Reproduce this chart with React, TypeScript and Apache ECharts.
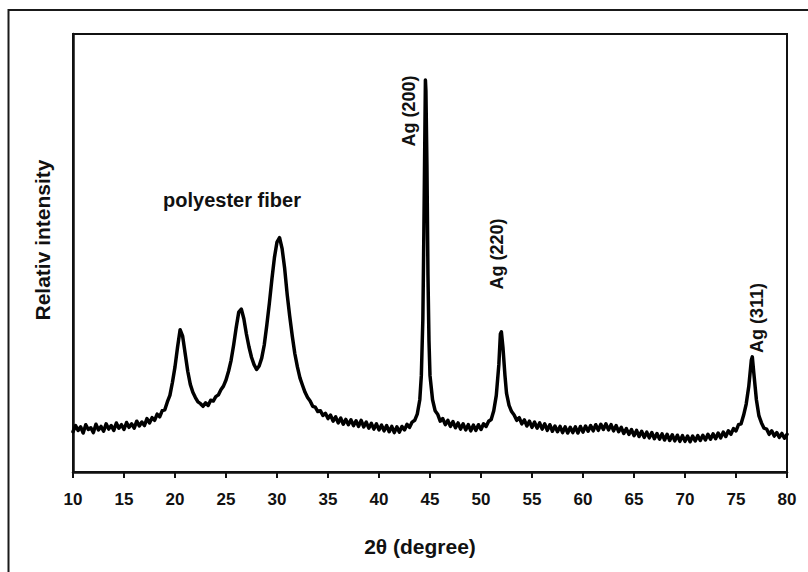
import React, { useEffect, useRef } from "react";
import * as echarts from "echarts";

const twoTheta: number[] = [
  10.0, 10.25, 10.5, 10.75, 11.0, 11.25, 11.5, 11.75, 12.0, 12.25, 12.5, 12.75, 13.0, 13.25, 13.5, 13.75,
  14.0, 14.25, 14.5, 14.75, 15.0, 15.25, 15.5, 15.75, 16.0, 16.25, 16.5, 16.75, 17.0, 17.25, 17.5, 17.75,
  18.0, 18.25, 18.5, 18.75, 19.0, 19.25, 19.5, 19.75, 20.0, 20.25, 20.5, 20.75, 21.0, 21.25, 21.5, 21.75,
  22.0, 22.25, 22.5, 22.75, 23.0, 23.25, 23.5, 23.75, 24.0, 24.25, 24.5, 24.75, 25.0, 25.25, 25.5, 25.75,
  26.0, 26.25, 26.5, 26.75, 27.0, 27.25, 27.5, 27.75, 28.0, 28.25, 28.5, 28.75, 29.0, 29.25, 29.5, 29.75,
  30.0, 30.25, 30.5, 30.75, 31.0, 31.25, 31.5, 31.75, 32.0, 32.25, 32.5, 32.75, 33.0, 33.25, 33.5, 33.75,
  34.0, 34.25, 34.5, 34.75, 35.0, 35.25, 35.5, 35.75, 36.0, 36.25, 36.5, 36.75, 37.0, 37.25, 37.5, 37.75,
  38.0, 38.25, 38.5, 38.75, 39.0, 39.25, 39.5, 39.75, 40.0, 40.25, 40.5, 40.75, 41.0, 41.25, 41.5, 41.75,
  42.0, 42.25, 42.5, 42.75, 43.0, 43.25, 43.5, 43.75, 44.0, 44.15, 44.3, 44.4, 44.5, 44.55, 44.6, 44.7,
  44.8, 44.9, 45.0, 45.25, 45.5, 45.75, 46.0, 46.25, 46.5, 46.75, 47.0, 47.25, 47.5, 47.75, 48.0, 48.25,
  48.5, 48.75, 49.0, 49.25, 49.5, 49.75, 50.0, 50.25, 50.5, 50.75, 51.0, 51.25, 51.5, 51.75, 51.9, 52.0,
  52.15, 52.35, 52.5, 52.75, 53.0, 53.25, 53.5, 53.75, 54.0, 54.25, 54.5, 54.75, 55.0, 55.25, 55.5, 55.75,
  56.0, 56.25, 56.5, 56.75, 57.0, 57.25, 57.5, 57.75, 58.0, 58.25, 58.5, 58.75, 59.0, 59.25, 59.5, 59.75,
  60.0, 60.25, 60.5, 60.75, 61.0, 61.25, 61.5, 61.75, 62.0, 62.25, 62.5, 62.75, 63.0, 63.25, 63.5, 63.75,
  64.0, 64.25, 64.5, 64.75, 65.0, 65.25, 65.5, 65.75, 66.0, 66.25, 66.5, 66.75, 67.0, 67.25, 67.5, 67.75,
  68.0, 68.25, 68.5, 68.75, 69.0, 69.25, 69.5, 69.75, 70.0, 70.25, 70.5, 70.75, 71.0, 71.25, 71.5, 71.75,
  72.0, 72.25, 72.5, 72.75, 73.0, 73.25, 73.5, 73.75, 74.0, 74.25, 74.5, 74.75, 75.0, 75.25, 75.5, 75.75,
  76.0, 76.25, 76.5, 76.6, 76.75, 77.0, 77.25, 77.5, 77.75, 78.0, 78.25, 78.5, 78.75, 79.0, 79.25, 79.5,
  79.75, 80.0,
];

const intensity: number[] = [
  9.2, 10.6, 9.5, 10.3, 8.9, 10.8, 9.7, 10.1, 9.0, 10.9, 9.6, 10.4, 9.3, 11.0, 9.8, 10.6,
  9.5, 11.2, 10.0, 10.8, 9.7, 11.3, 10.2, 11.0, 10.0, 11.6, 10.5, 11.4, 10.6, 12.2, 11.2, 12.4,
  11.8, 13.2, 12.6, 14.0, 14.2, 16.0, 17.5, 20.5, 24.0, 28.5, 32.5, 31.0, 27.0, 23.0, 20.0, 18.2,
  17.0, 16.0, 15.6, 15.0, 15.8, 15.2, 16.4, 16.2, 17.2, 17.6, 18.8, 19.6, 21.0, 23.0, 25.5, 29.0,
  33.0, 36.5, 37.2, 35.0, 31.5, 28.6, 26.2, 24.5, 23.4, 24.2, 26.0, 29.0, 33.5, 38.5, 44.0, 49.0,
  52.5, 53.5, 51.0, 46.5, 40.5, 35.5, 31.0, 27.0, 24.0, 21.5, 19.8, 18.2, 17.0, 16.2, 15.0, 14.8,
  13.8, 14.0, 12.9, 13.4, 12.2, 13.0, 11.6, 12.6, 11.2, 12.3, 10.9, 12.0, 10.8, 11.9, 10.6, 11.7,
  10.4, 11.8, 10.3, 11.4, 10.0, 11.1, 9.8, 11.0, 9.6, 10.7, 9.4, 10.6, 9.2, 10.4, 9.0, 10.3,
  9.1, 10.4, 9.6, 10.9, 10.2, 11.4, 11.8, 13.2, 16.5, 22.0, 35.0, 55.0, 78.0, 89.5, 87.0, 70.0,
  45.0, 30.0, 22.0, 16.5, 14.0, 13.2, 11.6, 12.2, 10.8, 11.8, 10.4, 11.5, 10.1, 11.2, 9.8, 11.0,
  9.6, 10.8, 9.4, 10.7, 9.5, 10.8, 9.7, 11.0, 10.4, 11.6, 12.0, 14.0, 17.5, 24.5, 31.5, 32.0,
  28.5, 22.0, 18.0, 15.2, 13.8, 13.0, 11.8, 12.4, 11.0, 11.9, 10.5, 11.6, 10.2, 11.4, 10.0, 11.2,
  9.8, 11.0, 9.5, 10.8, 9.3, 10.5, 9.2, 10.4, 9.0, 10.3, 8.9, 10.2, 9.0, 10.3, 8.9, 10.4,
  9.1, 10.5, 9.3, 10.6, 9.4, 10.8, 9.5, 10.9, 9.7, 11.0, 9.6, 10.8, 9.4, 10.6, 9.2, 10.2,
  8.8, 9.9, 8.6, 9.7, 8.3, 9.5, 8.1, 9.3, 7.9, 9.1, 7.8, 9.0, 7.6, 8.8, 7.5, 8.7,
  7.3, 8.6, 7.2, 8.5, 7.1, 8.4, 7.0, 8.3, 7.0, 8.2, 6.9, 8.2, 7.1, 8.3, 7.2, 8.4,
  7.3, 8.6, 7.5, 8.7, 7.6, 8.9, 7.8, 9.1, 8.1, 9.4, 8.6, 9.9, 9.4, 10.8, 11.0, 13.0,
  15.5, 19.5, 25.5, 26.3, 22.5, 16.5, 12.8, 11.2, 10.0, 9.8, 8.6, 9.4, 8.2, 9.0, 7.9, 8.8,
  7.7, 8.6,
];

const xTickMin = 10;
const xTickMax = 80;
const xTickStep = 5;

const xTitle = "2θ (degree)";
const yTitle = "Relativ intensity";
const peakLabels: string[] = ["polyester fiber", "Ag (200)", "Ag (220)", "Ag (311)"];

const FONT = "'Liberation Sans', Arial, sans-serif";

export default function App() {
  const ref = useRef<HTMLDivElement>(null);

  useEffect(() => {
    document.body.style.margin = "0";
    if (!ref.current) return;
    const chart = echarts.init(ref.current, undefined, { renderer: "svg" });
    const data = twoTheta.map((x, i) => [x, intensity[i]]);
    const label = (text: string, x: number, y: number, size: number, rotated: boolean) => ({
      type: "text",
      x,
      y,
      rotation: rotated ? Math.PI / 2 : 0,
      style: {
        text,
        fontFamily: FONT,
        fontWeight: "bold",
        fontSize: size,
        fill: "#111",
        align: "center",
        verticalAlign: "middle",
      },
    });
    chart.setOption({
      animation: false,
      backgroundColor: "#fff",
      grid: {
        left: 73,
        right: 21,
        top: 34,
        bottom: 100,
        show: true,
        borderColor: "#111",
        borderWidth: 2,
        backgroundColor: "transparent",
      },
      xAxis: {
        type: "value",
        min: xTickMin,
        max: xTickMax,
        interval: xTickStep,
        splitLine: { show: false },
        axisLine: { show: true, onZero: false, lineStyle: { color: "#111", width: 2.5 } },
        axisTick: { show: true, inside: false, length: 6, lineStyle: { color: "#111", width: 2 } },
        axisLabel: {
          color: "#111",
          fontFamily: FONT,
          fontWeight: "bold",
          fontSize: 17,
          margin: 19,
        },
      },
      yAxis: {
        type: "value",
        min: 0,
        max: 100,
        splitLine: { show: false },
        axisLine: { show: true, lineStyle: { color: "#111", width: 2.5 } },
        axisTick: { show: false },
        axisLabel: { show: false },
      },
      series: [
        {
          type: "line",
          data,
          showSymbol: false,
          symbol: "none",
          lineStyle: { color: "#000", width: 3.5, join: "round", cap: "round" },
          silent: true,
        },
      ],
      graphic: [
        {
          type: "rect",
          shape: { x: 8.5, y: 10, width: 840, height: 620 },
          style: { fill: "none", stroke: "#1a1a1a", lineWidth: 2 },
          silent: true,
        },
        label(xTitle, 420, 546, 21, false),
        label(yTitle, 42, 240, 21, true),
        label(peakLabels[0], 232, 200, 20, false),
        label(peakLabels[1], 409, 111, 18, true),
        label(peakLabels[2], 497, 254, 18, true),
        label(peakLabels[3], 757, 318, 18, true),
      ],
    });
    return () => chart.dispose();
  }, []);

  return <div ref={ref} style={{ width: 808, height: 572 }} />;
}
